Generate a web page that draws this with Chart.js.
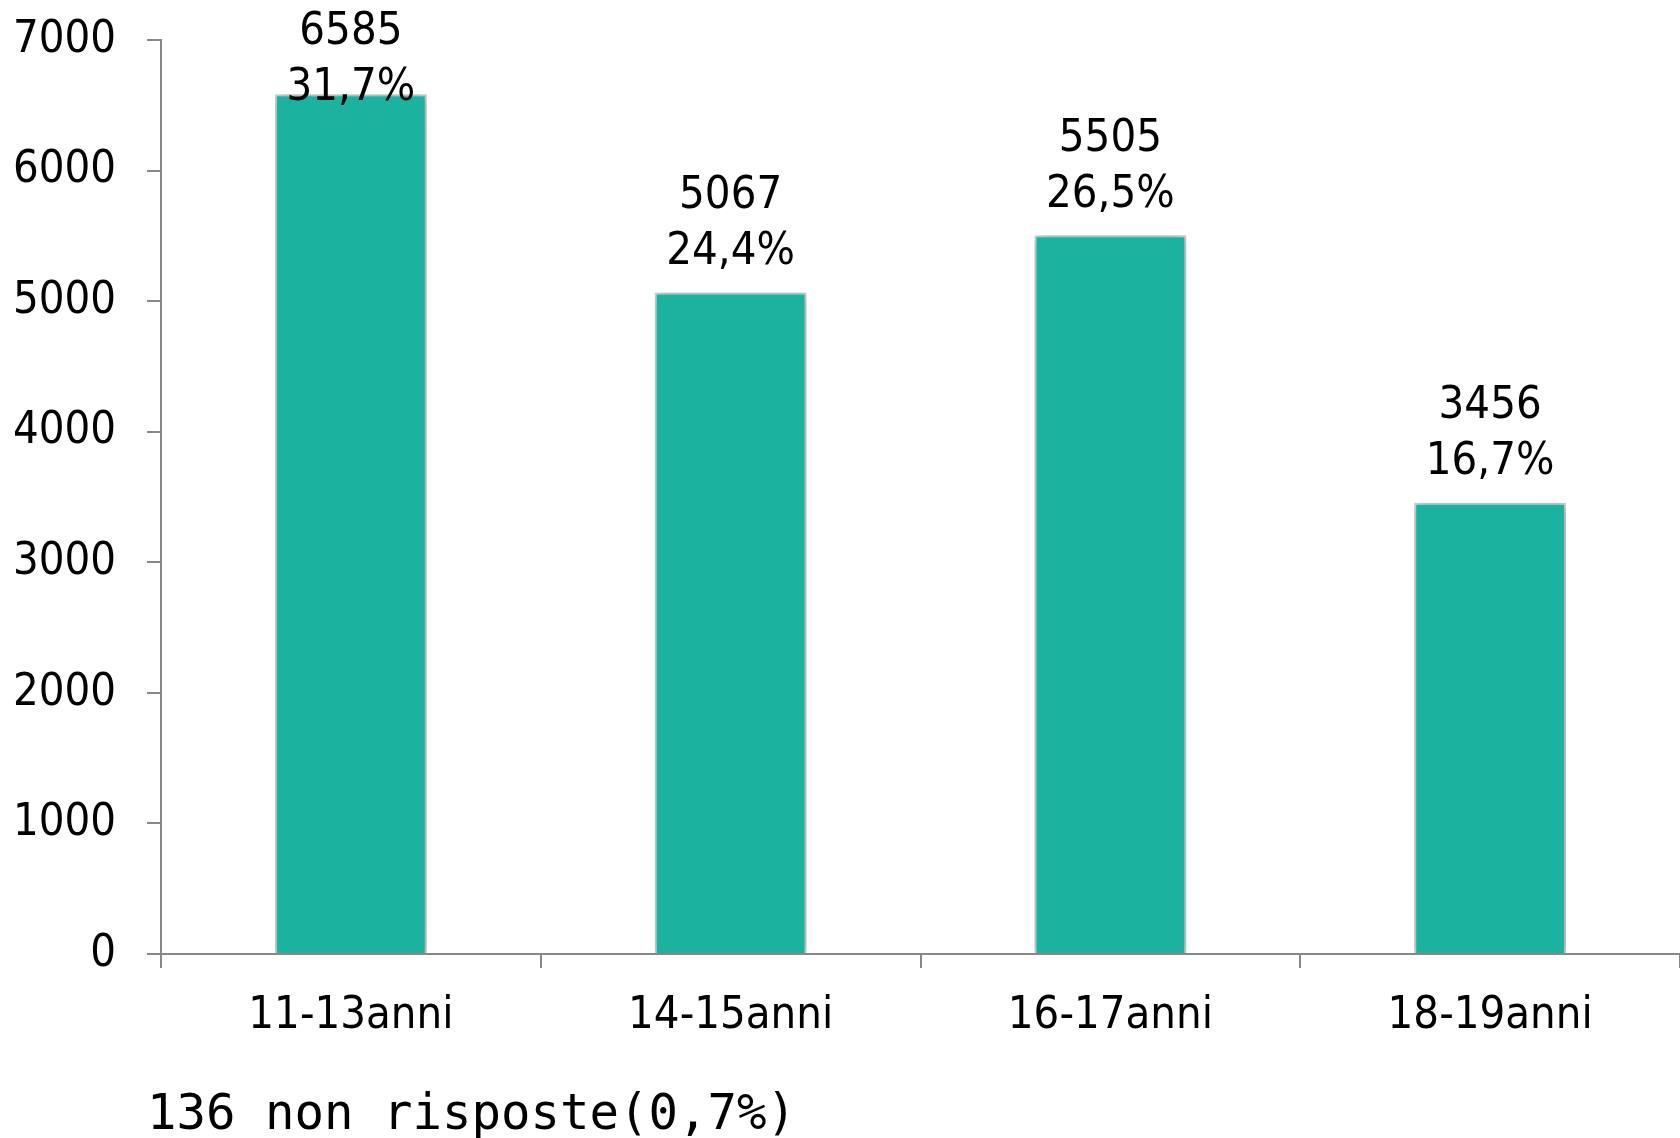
<!DOCTYPE html>
<html>
<head>
<meta charset="utf-8">
<script src="https://cdn.jsdelivr.net/npm/chart.js@4/dist/chart.umd.min.js"></script>
<style>
  html, body { margin: 0; padding: 0; background: #fff; }
  #wrap { width: 1680px; height: 1138px; }
</style>
</head>
<body>
<div id="wrap"><canvas id="c" width="1680" height="1138"></canvas></div>
<script>
// Age groups and respondent counts
const categories = ['11-13anni', '14-15anni', '16-17anni', '18-19anni'];
const counts = [6585, 5067, 5505, 3456];
const shares = ['31,7%', '24,4%', '26,5%', '16,7%'];
const yTicks = [0, 1000, 2000, 3000, 4000, 5000, 6000, 7000];
const footNote = '136 non risposte(0,7%)';

const LABEL_FONT = '"DejaVu Sans Condensed", "DejaVu Sans", sans-serif';
const AXIS_COLOR = '#888888';

// Soft drop shadow behind the bars
const barShadow = {
  id: 'barShadow',
  beforeDatasetDraw(chart) {
    const ctx = chart.ctx;
    ctx.save();
    ctx.shadowColor = 'rgba(0,0,0,0.28)';
    ctx.shadowBlur = 12;
    ctx.shadowOffsetX = 1;
    ctx.shadowOffsetY = 1;
  },
  afterDatasetDraw(chart) {
    chart.ctx.restore();
  }
};

// Two-line value labels (count + share) above each bar
const valueLabels = {
  id: 'valueLabels',
  afterDatasetsDraw(chart) {
    const ctx = chart.ctx;
    const meta = chart.getDatasetMeta(0);
    ctx.save();
    ctx.font = '45px ' + LABEL_FONT;
    ctx.fillStyle = '#000';
    ctx.textAlign = 'center';
    ctx.textBaseline = 'middle';
    const lineGap = 56;
    meta.data.forEach((bar, i) => {
      let second = bar.y - 40;
      let first = second - lineGap;
      if (first < 32) { first = 32; second = first + lineGap; }
      ctx.fillText(String(counts[i]), bar.x, first);
      ctx.fillText(shares[i], bar.x, second);
    });
    ctx.restore();
  }
};

// Footnote under the category axis
const footNotePlugin = {
  id: 'footNote',
  afterDraw(chart) {
    const ctx = chart.ctx;
    ctx.save();
    ctx.font = '49px "DejaVu Sans Mono", monospace';
    ctx.fillStyle = '#000';
    ctx.textAlign = 'left';
    ctx.textBaseline = 'middle';
    ctx.fillText(footNote, chart.chartArea.left - 14, chart.height - 22);
    ctx.restore();
  }
};

new Chart(document.getElementById('c'), {
  type: 'bar',
  data: {
    labels: categories,
    datasets: [{
      data: counts,
      backgroundColor: '#1BB39F',
      borderColor: '#d4d4d4',
      borderWidth: 2,
      barPercentage: 0.4,
      categoryPercentage: 1.0
    }]
  },
  options: {
    responsive: false,
    animation: false,
    devicePixelRatio: 1,
    layout: { padding: { top: 40, right: 0, left: 0, bottom: 0 } },
    plugins: {
      legend: { display: false },
      tooltip: { enabled: false }
    },
    scales: {
      x: {
        afterFit(scale) { scale.height = 184; },
        grid: {
          display: true,
          drawOnChartArea: false,
          drawTicks: true,
          tickLength: 14,
          color: AXIS_COLOR,
          lineWidth: 2
        },
        border: { display: true, color: AXIS_COLOR, width: 2 },
        ticks: {
          color: '#000',
          padding: 21,
          font: { family: LABEL_FONT, size: 45 }
        }
      },
      y: {
        min: 0,
        max: 7000,
        afterFit(scale) {
          scale.width = 161;
          scale.paddingTop = 0;
          scale.paddingBottom = 0;
        },
        afterBuildTicks(scale) { scale.ticks = yTicks.map(v => ({ value: v })); },
        grid: {
          display: true,
          drawOnChartArea: false,
          drawTicks: true,
          tickLength: 14,
          color: AXIS_COLOR,
          lineWidth: 2
        },
        border: { display: true, color: AXIS_COLOR, width: 2 },
        ticks: {
          color: '#000',
          padding: 31,
          font: { family: LABEL_FONT, size: 45 },
          callback: (v) => String(v)
        }
      }
    }
  },
  plugins: [barShadow, valueLabels, footNotePlugin]
});
</script>
</body>
</html>
